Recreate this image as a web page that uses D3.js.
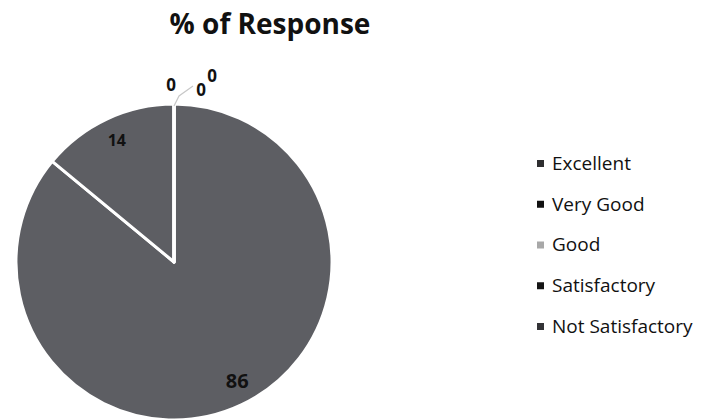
<!DOCTYPE html>
<html>
<head>
<meta charset="utf-8">
<script src="https://cdn.jsdelivr.net/npm/d3@7"></script>
<style>
  body { margin: 0; background: #fff; }
  svg { display: block; }
</style>
</head>
<body>
<svg id="chart"></svg>
<script>
const categories = ['Excellent', 'Very Good', 'Good', 'Satisfactory', 'Not Satisfactory'];
const values = [86, 14, 0, 0, 0];
const sliceColors = ['#5d5e63', '#5d5e63', '#b5b5b5', '#5d5e63', '#5d5e63'];
const legendColors = ['#2e2e30', '#111111', '#a8a8a8', '#151515', '#333336'];

const width = 708, height = 420;
const cx = 174, cy = 262, radius = 158;

const svg = d3.select('#chart')
    .attr('width', width)
    .attr('height', height);

svg.append('text')
    .attr('x', 270)
    .attr('y', 34)
    .attr('text-anchor', 'middle')
    .style('font-family', '"Open Sans", sans-serif')
    .style('font-size', '28px')
    .style('font-weight', 700)
    .attr('fill', '#111')
    .text('% of Response');

const data = categories.map((c, i) => ({ name: c, value: values[i] }));

const pie = d3.pie()
    .value(d => d.value)
    .sort(null);

const arc = d3.arc()
    .innerRadius(0)
    .outerRadius(radius);

const labelArc = d3.arc()
    .innerRadius(radius * 0.85)
    .outerRadius(radius * 0.85);

const g = svg.append('g')
    .attr('transform', `translate(${cx},${cy})`);

const arcs = pie(data);

g.selectAll('.slice')
    .data(arcs)
    .join('path')
    .attr('class', 'slice')
    .attr('d', arc)
    .attr('fill', (d, i) => sliceColors[i])
    .attr('stroke', '#fff')
    .attr('stroke-width', 3)
    .attr('stroke-linejoin', 'round');

// labels of non-zero slices inside the pie
g.selectAll('.label')
    .data(arcs.filter(d => d.data.value > 0))
    .join('text')
    .attr('class', 'label')
    .attr('transform', d => {
        const [x, y] = labelArc.centroid(d);
        return d.data.value > 50 ? `translate(${x + 6},${y - 3})` : `translate(${x},${y})`;
    })
    .attr('text-anchor', 'middle')
    .attr('dy', '0.36em')
    .style('font-family', '"Open Sans", sans-serif')
    .style('font-weight', 700)
    .style('font-size', d => d.data.value > 50 ? '20px' : '16px')
    .attr('fill', '#111')
    .text(d => d.data.value);

// zero slices: labels outside at the top, with a leader line
const zeros = arcs.filter(d => d.data.value === 0);
const zeroOffsets = [[-3, -177], [27, -172], [38, -186]];

g.append('path')
    .attr('d', d3.line()([[0, -radius + 2], [5, -166], [19, -176]]))
    .attr('fill', 'none')
    .attr('stroke', '#c8c8c8')
    .attr('stroke-width', 1.2);

g.selectAll('.zero-label')
    .data(zeros)
    .join('text')
    .attr('class', 'zero-label')
    .attr('x', (d, i) => zeroOffsets[i][0])
    .attr('y', (d, i) => zeroOffsets[i][1])
    .attr('text-anchor', 'middle')
    .attr('dy', '0.36em')
    .style('font-family', '"Open Sans", sans-serif')
    .style('font-weight', 700)
    .style('font-size', '17px')
    .attr('fill', '#111')
    .text(d => d.data.value);

// legend
const legendY = d3.scalePoint()
    .domain(categories)
    .range([163, 326]);

const legend = svg.append('g')
    .selectAll('.legend-item')
    .data(categories)
    .join('g')
    .attr('class', 'legend-item')
    .attr('transform', d => `translate(537,${legendY(d)})`);

legend.append('rect')
    .attr('x', 0)
    .attr('y', -3)
    .attr('width', 7)
    .attr('height', 7)
    .attr('fill', (d, i) => legendColors[i]);

legend.append('text')
    .attr('x', 15)
    .attr('dy', '0.36em')
    .style('font-family', '"Open Sans", sans-serif')
    .style('font-size', '19px')
    .attr('fill', '#111')
    .text(d => d);
</script>
</body>
</html>
